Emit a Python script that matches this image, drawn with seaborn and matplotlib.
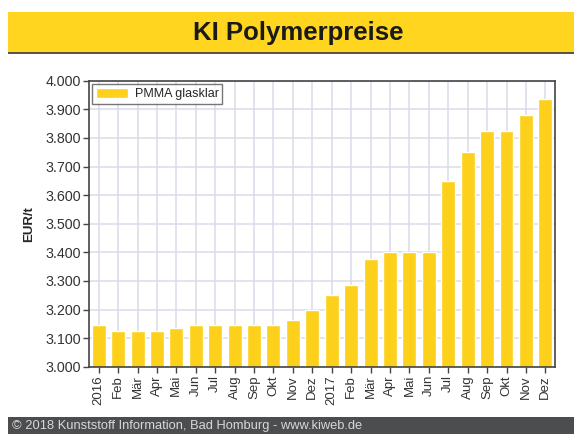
import numpy as np
import pandas as pd
import seaborn as sns
import matplotlib
matplotlib.use("Agg")
import matplotlib.pyplot as plt

# Monatswerte PMMA glasklar, EUR/t
monate = ["2016", "Feb", "Mär", "Apr", "Mai", "Jun", "Jul", "Aug", "Sep", "Okt", "Nov", "Dez",
          "2017", "Feb", "Mär", "Apr", "Mai", "Jun", "Jul", "Aug", "Sep", "Okt", "Nov", "Dez"]
preise = [3145, 3125, 3125, 3125, 3135, 3145, 3145, 3145, 3145, 3145, 3165, 3200,
          3250, 3285, 3375, 3400, 3400, 3400, 3650, 3750, 3825, 3825, 3880, 3935]
y_ticks = list(range(3000, 4001, 100))
y_ticklabels = ["3.000", "3.100", "3.200", "3.300", "3.400", "3.500",
                "3.600", "3.700", "3.800", "3.900", "4.000"]

gelb = "#FDD01C"

sns.set_style("white")
plt.rcParams["font.family"] = ["Liberation Sans", "DejaVu Sans"]

df = pd.DataFrame({"pos": [f"{i:02d}" for i in range(len(monate))], "preis": preise})

fig = plt.figure(figsize=(5.74, 4.34), dpi=100)
fig.patch.set_facecolor("white")

# Titelband
fig.patches.append(plt.Rectangle((8 / 574, 0.880), 1, 0.092, transform=fig.transFigure,
                                 facecolor="#FFD520", edgecolor="none"))
fig.patches.append(plt.Rectangle((8 / 574, 0.875), 1, 0.006, transform=fig.transFigure,
                                 facecolor="#5a5640", edgecolor="none"))
fig.text(0.520, 0.923, "KI Polymerpreise", ha="center", va="center",
         fontsize=18.5, fontweight="bold", color="#1a1a1a")

# Fußzeile
fig.patches.append(plt.Rectangle((8 / 574, 0), 1, 0.039, transform=fig.transFigure,
                                 facecolor="#4b4d4f", edgecolor="none"))
fig.text(12 / 574, 0.019, "© 2018 Kunststoff Information, Bad Homburg - www.kiweb.de",
         ha="left", va="center", fontsize=9.3, color="#d8d8d8")

ax = fig.add_axes([0.155, 0.155, 0.812, 0.659])
sns.barplot(data=df, x="pos", y="preis", color=gelb, saturation=1, width=0.72,
            label="PMMA glasklar", ax=ax, zorder=2)

ax.set_ylim(3000, 4000)
ax.set_xlim(-0.5, len(monate) - 0.5)
ax.set_yticks(y_ticks)
ax.set_yticklabels(y_ticklabels, fontsize=10.3, color="#333333")
ax.set_xticks(np.arange(len(monate)))
ax.set_xticklabels(monate, rotation=90, fontsize=9.5, color="#333333")
ax.set_xlabel("")
ax.set_ylabel("EUR/t", fontsize=9.5, fontweight="bold", labelpad=7)

ax.grid(True, color="#d9dbe8", linewidth=1.1, zorder=0)
ax.set_axisbelow(True)
for sp in ax.spines.values():
    sp.set_color("#444444")
    sp.set_linewidth(1.2)
ax.tick_params(axis="both", direction="out", length=4, width=1, color="#444444",
               bottom=True, left=True, pad=2)

leg = ax.legend(loc="upper left", fontsize=9, frameon=True, fancybox=False,
                borderpad=0.3, handlelength=2.6, handleheight=0.9, handletextpad=0.5,
                borderaxespad=0.25)
leg.get_frame().set_edgecolor("#555555")
leg.get_frame().set_linewidth(1)

fig.savefig("out.png", dpi=100)
